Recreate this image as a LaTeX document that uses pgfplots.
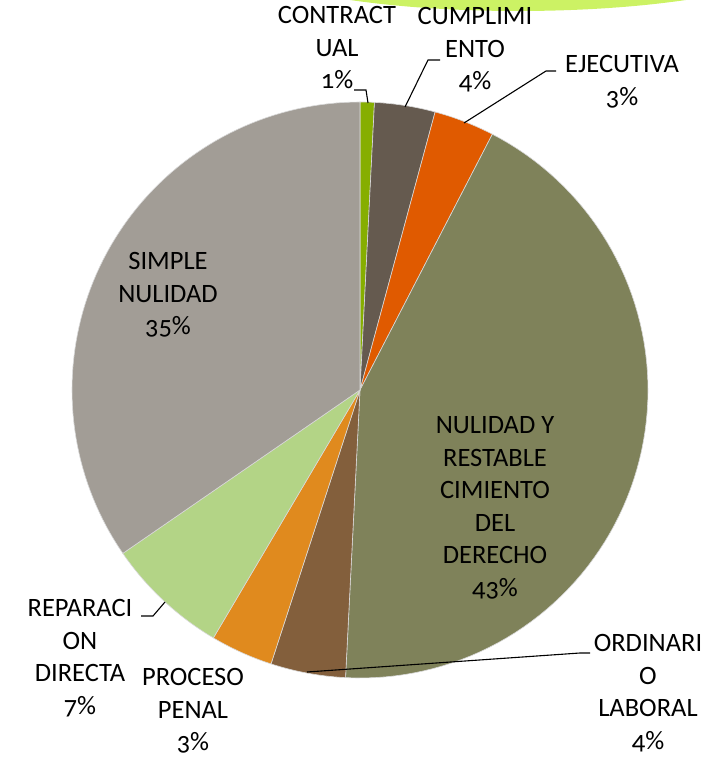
\documentclass[border=0pt]{standalone}
\usepackage{pgfplots}
\pgfplotsset{compat=1.18}
\usepackage{pgfplotstable}
\usepackage{fontspec}
\setmainfont{Carlito}[Numbers=OldStyle]

\definecolor{cContr}{RGB}{134,174,0}
\definecolor{cCump}{RGB}{101,90,79}
\definecolor{cEjec}{RGB}{224,90,0}
\definecolor{cNul}{RGB}{127,130,90}
\definecolor{cOrd}{RGB}{131,95,60}
\definecolor{cPen}{RGB}{224,138,30}
\definecolor{cRep}{RGB}{179,212,134}
\definecolor{cSim}{RGB}{162,157,150}
\definecolor{cTop}{RGB}{204,242,100}

% pie geometry (axis units = px of the reference, y upwards)
\def\cx{360}
\def\cy{368}
\def\R{288}

\newcommand\pieslice[3]{%
  \addplot[draw=white!85!black, line width=0.6pt, fill=#3, domain=#1*3.6:#2*3.6, samples=80, variable=\t]
    ({\cx+\R*sin(\t)},{\cy+\R*cos(\t)}) -- (axis cs:\cx,\cy) -- cycle;}

\begin{document}
\begin{tikzpicture}
\begin{axis}[
  width=716pt, height=758pt, scale only axis,
  xmin=0, xmax=716, ymin=0, ymax=758,
  hide axis, clip=true,
]
% decorative shape at the top
\fill[cTop] (axis cs:518,808) ellipse [x radius=293pt, y radius=61pt];

% slices: value (percent) / colour, clockwise from 12 o'clock
\gdef\cum{0}
\foreach \v/\c in {0.8/cContr, 3.4/cCump, 3.4/cEjec, 43.2/cNul, 4.2/cOrd, 3.5/cPen, 6.9/cRep, 34.6/cSim}{
  \pgfmathsetmacro\e{\cum+\v}
  \edef\tmp{\noexpand\pieslice{\cum}{\e}{\c}}\tmp
  \xdef\cum{\e}
}

% leader lines
\addplot[black, line width=1.1pt] coordinates {(354,668) (366,668) (368,655)};
\addplot[black, line width=1.1pt] coordinates {(440,698) (428,698) (405,651)};
\addplot[black, line width=1.1pt] coordinates {(556,687) (546,687) (464,635)};
\addplot[black, line width=1.1pt] coordinates {(590,105) (580,105) (307,86)};
\addplot[black, line width=1.1pt] coordinates {(141,142) (153,142) (165,156)};

\tikzset{lab/.style={align=center, text=black, font=\fontsize{26.5}{32.5}\selectfont, inner sep=0pt}}
\node[lab] at (axis cs:337,710) {CONTRACT\\UAL\\1\%};
\node[lab] at (axis cs:475,708) {CUMPLIMI\\ENTO\\4\%};
\node[lab] at (axis cs:622,676) {EJECUTIVA\\3\%};
\node[lab] at (axis cs:168,463) {SIMPLE\\NULIDAD\\35\%};
\node[lab] at (axis cs:495,250) {NULIDAD Y\\RESTABLE\\CIMIENTO\\DEL\\DERECHO\\43\%};
\node[lab] at (axis cs:648,65) {ORDINARI\\O\\LABORAL\\4\%};
\node[lab] at (axis cs:193,47) {PROCESO\\PENAL\\3\%};
\node[lab] at (axis cs:80,100) {REPARACI\\ON\\DIRECTA\\7\%};
\end{axis}
\pgfresetboundingbox
\path (current axis.south west) rectangle (current axis.north east);
\end{tikzpicture}
\end{document}
